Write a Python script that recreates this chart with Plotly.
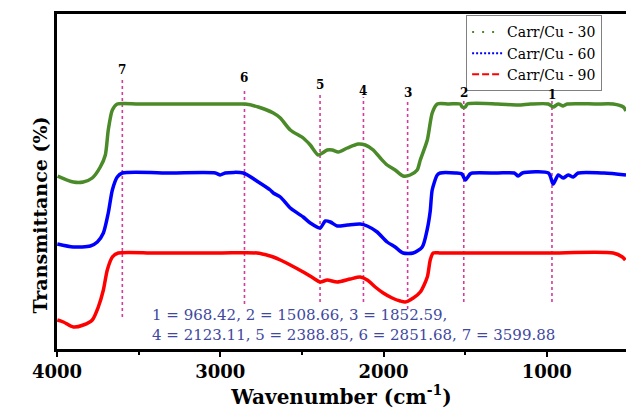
import plotly.graph_objects as go

# ---------------- data ----------------
series_names = ["Carr/Cu - 30", "Carr/Cu - 60", "Carr/Cu - 90"]

wn_30 = [3996, 3900, 3839, 3784, 3735, 3704, 3686, 3661, 3631, 3500, 3200, 2900, 2847,
         2767, 2675, 2632, 2571, 2492, 2449, 2400, 2375, 2345, 2314, 2277, 2222, 2155,
         2112, 2063, 2020, 1978, 1929, 1880, 1837, 1794, 1775, 1732, 1702, 1671, 1600,
         1530, 1518, 1499, 1487, 1300, 1175, 1100, 990, 961, 930, 900, 875, 700, 593,
         531, 515]
t_30 = [173, 167, 167, 171, 182, 194, 219, 239, 245, 245, 245, 245, 245,
        242, 236, 231, 219, 211, 204, 194, 196, 199, 199, 197, 201, 205,
        204, 199, 191, 184, 179, 173, 174, 179, 189, 209, 236, 245, 245,
        245, 242, 242, 245, 245, 244, 245, 245, 242, 245, 243, 245, 245, 245,
        242, 238]

wn_60 = [3998, 3900, 3796, 3753, 3716, 3686, 3661, 3631, 3600, 3300, 3030, 3000, 2970,
         2859, 2767, 2694, 2675, 2632, 2571, 2492, 2449, 2388, 2357, 2326, 2284, 2222,
         2143, 2100, 2039, 1978, 1929, 1880, 1818, 1763, 1732, 1714, 1702, 1671, 1653,
         1560, 1520, 1499, 1470, 1456, 1300, 1200, 1175, 1150, 990, 961, 930, 900, 869,
         838, 808, 650, 515]
t_60 = [105, 102, 103, 107, 116, 136, 159, 172, 176, 176, 176, 174, 176,
        176, 167, 159, 156, 152, 141, 132, 126, 121, 128, 127, 123, 124,
        125, 123, 117, 107, 102, 96, 96, 102, 120, 138, 159, 174, 176,
        176, 175, 169, 175, 176, 176, 176, 173, 176, 176, 165, 174, 171, 174,
        172, 176, 176, 174]

wn_90 = [3998, 3961, 3900, 3839, 3784, 3747, 3716, 3692, 3661, 3625, 3400, 3000, 2774,
         2694, 2675, 2632, 2571, 2492, 2431, 2388, 2345, 2284, 2204, 2143, 2100, 2051,
         2002, 1947, 1898, 1867, 1818, 1775, 1732, 1714, 1696, 1650, 1400, 1000, 593,
         537, 519]
t_90 = [29, 27, 22, 24, 29, 42, 59, 79, 92, 96, 96, 96, 96,
        93, 92, 89, 84, 77, 71, 67, 69, 67, 70, 72, 69, 62,
        56, 51, 48, 47, 51, 57, 72, 89, 96, 96, 96, 96, 96,
        92, 89]

peak_ids = ["1", "2", "3", "4", "5", "6", "7"]
peak_wn = [968.42, 1508.66, 1852.59, 2123.11, 2388.85, 2851.68, 3599.88]

x_tickvals = [4000, 3000, 2000, 1000]
x_minor = [3500, 2500, 1500]

# ---------------- styling ----------------
colors = ["#4a8a28", "#0000ff", "#ff0000"]
legend_dash = ["2px,8px", "2px,2px", "7px,3px"]
label_T = [254, 256, 256, 258, 264, 271, 279]
top_T = [248, 249, 249, 252, 256, 261, 271]
bot_T = [47, 47, 40, 47, 47, 45, 32]

fig = go.Figure()
xs = [wn_30, wn_60, wn_90]
ys = [t_30, t_60, t_90]
for name, x, y, c in zip(series_names, xs, ys, colors):
    fig.add_trace(go.Scatter(x=x, y=y, mode="lines", name=name, showlegend=False,
                             line=dict(color=c, width=3.5, shape="spline", smoothing=0.7)))
for name, c, d in zip(series_names, colors, legend_dash):
    fig.add_trace(go.Scatter(x=[None], y=[None], mode="lines", name=name,
                             line=dict(color=c, width=2, dash=d)))

for pid, w, lt, tt, bt in zip(peak_ids, peak_wn, label_T, top_T, bot_T):
    fig.add_shape(type="line", x0=w, x1=w, y0=bt, y1=tt, xref="x", yref="y",
                  line=dict(color="#d23c9c", width=1.6, dash="dot"), layer="below")
    fig.add_annotation(x=w, y=lt, text="<b>%s</b>" % pid, showarrow=False,
                       font=dict(family="DejaVu Serif", size=12, color="black"))

fig.add_annotation(
    x=0.163, y=0.0716, xref="paper", yref="paper", xanchor="left", yanchor="middle",
    align="left", showarrow=False,
    text=(", ".join("%s = %s" % (i, f"{v:.2f}") for i, v in zip(peak_ids[:3], peak_wn[:3])) + ",<br>"
          + ", ".join("%s = %s" % (i, f"{v:.2f}") for i, v in zip(peak_ids[3:], peak_wn[3:]))),
    font=dict(family="DejaVu Serif", size=15, color="#4048a0"))

fig.add_annotation(x=-0.052, y=0.40, xref="paper", yref="paper", textangle=-90,
                   showarrow=False, text="<b>Transmittance (%)</b>",
                   font=dict(family="DejaVu Serif", size=19, color="black"))

fig.update_layout(
    width=626, height=411,
    margin=dict(l=57, r=0, t=14, b=62),
    paper_bgcolor="white", plot_bgcolor="white",
    showlegend=True,
    legend=dict(x=0.958, y=0.996, xanchor="right", yanchor="top",
                bgcolor="white", bordercolor="#808080", borderwidth=1,
                tracegroupgap=0, itemwidth=30,
                font=dict(family="DejaVu Serif", size=14, color="black")),
    xaxis=dict(range=[4000, 515], showgrid=False, zeroline=False,
               showline=True, linecolor="black", linewidth=2.5, mirror=True,
               ticks="outside", ticklen=5, tickwidth=2, tickcolor="black",
               tickvals=x_tickvals,
               minor=dict(tickvals=x_minor, ticks="outside", ticklen=3, tickwidth=2, tickcolor="black"),
               tickfont=dict(family="DejaVu Serif", size=18, color="black", weight="bold"),
               title=dict(text="<b>Wavenumber (cm<sup>-1</sup>)</b>", standoff=8,
                          font=dict(family="DejaVu Serif", size=20, color="black"))),
    yaxis=dict(range=[0, 335], showgrid=False, zeroline=False, showticklabels=False,
               ticks="", showline=True, linecolor="black", linewidth=2.5),
)

fig.write_html("out.html", config={"displayModeBar": False},
               post_script="document.body.style.margin='0';")
